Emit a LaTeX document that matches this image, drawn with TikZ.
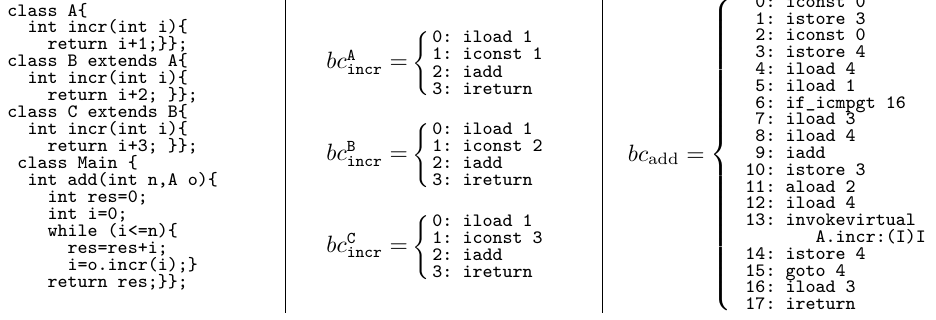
\documentclass[tikz,border=0pt]{standalone}
\usepackage{fontspec}
\usepackage{graphicx}
\newcommand{\codefont}[1]{\fontsize{8}{#1}\selectfont\ttfamily\frenchspacing\lineskiplimit=-\maxdimen\lineskip=0pt\relax}
\newcommand{\codeln}[1]{\hbox{#1}}
\newcommand{\smallbrace}{\resizebox*{!}{27.1pt}{$\left\{\vcenter to 30pt{\vfil}\right.$}}
\newcommand{\bigbrace}{\resizebox*{!}{133pt}{$\left\{\vcenter to 133pt{\vfil}\right.$}}
\newcommand{\bcblock}[1]{\vtop{\codefont{7.29pt}%
  \codeln{0: iload 1}\codeln{1: iconst #1}\codeln{2: iadd}\codeln{3: ireturn}}}
\tikzset{
  codebox/.style={inner sep=0pt, anchor=base west},
  lhsbox/.style={inner sep=0pt, anchor=base west},
  bracebox/.style={inner sep=0pt, anchor=center},
  separator/.style={line width=0.4pt, black}
}
\begin{document}
\begin{tikzpicture}[x=0.42373pt, y=-0.42373pt]
\useasboundingbox (0,0) rectangle (936,320);
% separators
\coordinate (s1t) at (285.5,-3);
\coordinate (s1b) at (285.5,313);
\coordinate (s2t) at (602,-3);
\coordinate (s2b) at (602,313);
\draw[separator] (s1t) -- (s1b);
\draw[separator] (s2t) -- (s2b);
% source code
\node[codebox] (code) at (7,16) {\vtop{\codefont{7.2pt}%
\codeln{class A\{}
\codeln{\ \ int incr(int i)\{}
\codeln{\ \ \ \ return i+1;\}\};}
\codeln{class B extends A\{}
\codeln{\ \ int incr(int i)\{}
\codeln{\ \ \ \ return i+2; \}\};}
\codeln{class C extends B\{}
\codeln{\ \ int incr(int i)\{}
\codeln{\ \ \ \ return i+3; \}\};}
\codeln{\ class Main \{}
\codeln{\ \ int add(int n,A o)\{}
\codeln{\ \ \ \ int res=0;}
\codeln{\ \ \ \ int i=0;}
\codeln{\ \ \ \ while (i<=n)\{}
\codeln{\ \ \ \ \ \ res=res+i;}
\codeln{\ \ \ \ \ \ i=o.incr(i);\}}
\codeln{\ \ \ \ return res;\}\};}}};
% bytecode of incr
\node[lhsbox] (lhsA) at (326,68.7) {$bc^{\mathtt{A}}_{\mathtt{incr}} =$};
\node[bracebox] (brA) at (422.5,64) {\smallbrace};
\node[codebox] (bcA) at (432,42.7) {\bcblock{1}};
\node[lhsbox] (lhsB) at (326,160.4) {$bc^{\mathtt{B}}_{\mathtt{incr}} =$};
\node[bracebox] (brB) at (422.5,155.7) {\smallbrace};
\node[codebox] (bcB) at (432,134.3) {\bcblock{2}};
\node[lhsbox] (lhsC) at (326,252.1) {$bc^{\mathtt{C}}_{\mathtt{incr}} =$};
\node[bracebox] (brC) at (422.5,247.4) {\smallbrace};
\node[codebox] (bcC) at (432,226) {\bcblock{3}};
% bytecode of add
\node[lhsbox] (lhsAdd) at (627.5,161) {$bc_{\mathrm{add}} =$};
\node[bracebox] (brAdd) at (722.5,155) {\bigbrace};
\node[codebox] (bcAdd) at (745,7.3) {\vtop{\codefont{7.12pt}%
\codeln{\ 0: iconst 0}
\codeln{\ 1: istore 3}
\codeln{\ 2: iconst 0}
\codeln{\ 3: istore 4}
\codeln{\ 4: iload 4}
\codeln{\ 5: iload 1}
\codeln{\ 6: if\_icmpgt 16}
\codeln{\ 7: iload 3}
\codeln{\ 8: iload 4}
\codeln{\ 9: iadd}
\codeln{10: istore 3}
\codeln{11: aload 2}
\codeln{12: iload 4}
\codeln{13: invokevirtual}
\codeln{\ \ \ \ \ \ \ A.incr:(I)I}
\codeln{14: istore 4}
\codeln{15: goto 4}
\codeln{16: iload 3}
\codeln{17: ireturn}}};
\end{tikzpicture}
\end{document}
